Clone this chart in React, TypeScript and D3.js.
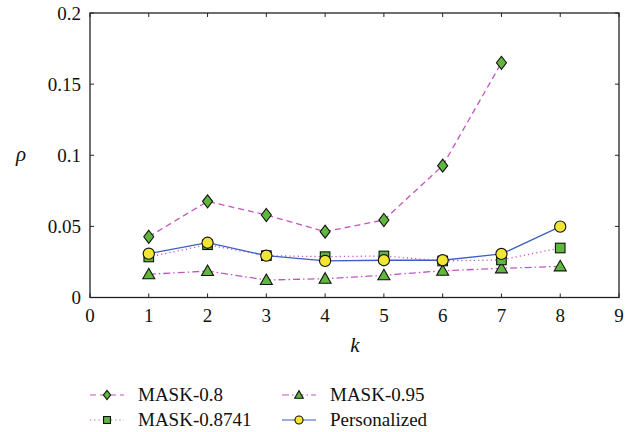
import React from "react";
import * as d3 from "d3";

const kValues = [1, 2, 3, 4, 5, 6, 7, 8];
const mask08 = [0.0427, 0.0676, 0.058, 0.0463, 0.0545, 0.0927, 0.165];
const mask08741 = [0.0285, 0.0371, 0.0294, 0.0287, 0.0292, 0.0257, 0.0264, 0.0348];
const mask095 = [0.0163, 0.0186, 0.0123, 0.0132, 0.0156, 0.0188, 0.0205, 0.0219];
const personalized = [0.0308, 0.0385, 0.0294, 0.0257, 0.0262, 0.0262, 0.0306, 0.0498];
const xTicks = [0, 1, 2, 3, 4, 5, 6, 7, 8, 9];
const yTicks = [0, 0.05, 0.1, 0.15, 0.2];
const yTickLabels = ["0", "0.05", "0.1", "0.15", "0.2"];

const W = 638, H = 432;
const L = 90, R = 619, T = 13, B = 297.5;
const MAG = "#c455c0";
const BLUE = "#3a5fc0";
const GREEN = "#5fb83c";
const YELLOW = "#f2e635";
const TXT: React.CSSProperties = { fontFamily: "Liberation Serif", fontSize: "19px", fontWeight: 400 };
const ITAL: React.CSSProperties = { fontFamily: "Liberation Serif", fontSize: "21px", fontStyle: "italic" };

type Shape = "diamond" | "square" | "triangle" | "circle";

function Marker({ shape, x, y, fill, k = 1 }: { shape: Shape; x: number; y: number; fill: string; k?: number }) {
  const s = { fill, stroke: "#111", strokeWidth: 1.1 };
  if (shape === "diamond")
    return <path d={`M${x},${y - 6.5 * k}L${x + 5 * k},${y}L${x},${y + 6.5 * k}L${x - 5 * k},${y}Z`} {...s} />;
  if (shape === "square")
    return <rect x={x - 4.8 * k} y={y - 4.8 * k} width={9.6 * k} height={9.6 * k} {...s} />;
  if (shape === "triangle")
    return <path d={`M${x},${y - 6 * k}L${x + 6 * k},${y + 4.5 * k}L${x - 6 * k},${y + 4.5 * k}Z`} {...s} />;
  return <circle cx={x} cy={y} r={5.6 * k} {...s} />;
}

const series = [
  { name: "MASK-0.8", data: mask08, color: MAG, dash: "6,4", shape: "diamond" as Shape, fill: GREEN },
  { name: "MASK-0.8741", data: mask08741, color: MAG, dash: "1.2,3", shape: "square" as Shape, fill: GREEN },
  { name: "MASK-0.95", data: mask095, color: MAG, dash: "7,3,1.5,3", shape: "triangle" as Shape, fill: GREEN },
  { name: "Personalized", data: personalized, color: BLUE, dash: "none", shape: "circle" as Shape, fill: YELLOW },
];

export default function App() {
  const x = d3.scaleLinear().domain([0, 9]).range([L, R]);
  const y = d3.scaleLinear().domain([0, 0.2]).range([B, T]);
  const line = d3.line<number>().x((_, i) => x(kValues[i])).y((d) => y(d));

  const legend = [
    { s: series[0], lx: 90, ly: 395 },
    { s: series[2], lx: 282, ly: 395 },
    { s: series[1], lx: 90, ly: 420 },
    { s: series[3], lx: 282, ly: 420 },
  ];

  return (
    <svg width={W} height={H} style={{ position: "absolute", left: 0, top: 0, background: "#fff", fontFamily: "Liberation Serif" }}>
      <rect x={0} y={0} width={W} height={H} fill="#fff" />
      {series.map((s) => (
        <path key={s.name} d={line(s.data) || ""} fill="none" stroke={s.color} strokeWidth={1.3}
          strokeDasharray={s.dash} />
      ))}
      {[series[2], series[0], series[1], series[3]].map((s) =>
        s.data.map((d, i) => (
          <Marker key={s.name + i} shape={s.shape} x={x(kValues[i])} y={y(d)} fill={s.fill} />
        ))
      )}
      <rect x={L} y={T} width={R - L} height={B - T} fill="none" stroke="#222" strokeWidth={1.3} />
      {xTicks.map((t) => (
        <g key={"xt" + t}>
          <line x1={x(t)} x2={x(t)} y1={B} y2={B - 4} stroke="#222" strokeWidth={1} />
          <line x1={x(t)} x2={x(t)} y1={T} y2={T + 4} stroke="#222" strokeWidth={1} />
          <text x={x(t)} y={B + 24} textAnchor="middle" style={TXT} fill="#111">
            {t}
          </text>
        </g>
      ))}
      {yTicks.map((t, i) => (
        <g key={"yt" + t}>
          <line x1={L} x2={L + 4} y1={y(t)} y2={y(t)} stroke="#222" strokeWidth={1} />
          <line x1={R} x2={R - 4} y1={y(t)} y2={y(t)} stroke="#222" strokeWidth={1} />
          <text x={L - 9} y={y(t) + 6.5} textAnchor="end" style={TXT} fill="#111">
            {yTickLabels[i]}
          </text>
        </g>
      ))}
      <text x={21} y={161} textAnchor="middle" style={ITAL} fill="#111">
        ρ
      </text>
      <text x={355} y={352} textAnchor="middle" style={ITAL} fill="#111">
        k
      </text>
      {legend.map(({ s, lx, ly }) => (
        <g key={"lg" + s.name}>
          <line x1={lx} x2={lx + 34} y1={ly} y2={ly} stroke={s.color} strokeWidth={1.2} strokeDasharray={s.dash} />
          <Marker shape={s.shape} x={lx + 17} y={ly} fill={s.fill} k={0.72} />
          <text x={lx + 48} y={ly + 6} style={TXT} fill="#111">
            {s.name}
          </text>
        </g>
      ))}
    </svg>
  );
}
